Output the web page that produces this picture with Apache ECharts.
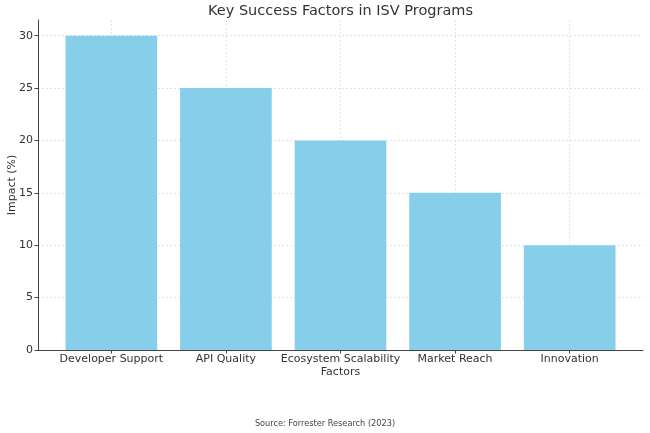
<!DOCTYPE html>
<html>
<head>
<meta charset="utf-8">
<script src="https://cdn.jsdelivr.net/npm/echarts@6/dist/echarts.min.js"></script>
<style>html,body{margin:0;padding:0;background:#fff;}#c{width:650px;height:433px;}</style>
</head>
<body>
<div id="c"></div>
<script>
const categories = ['Developer Support', 'API Quality', 'Ecosystem Scalability', 'Market Reach', 'Innovation'];
const impact = [30, 25, 20, 15, 10];
const yTicks = [0, 5, 10, 15, 20, 25, 30];
const titleText = 'Key Success Factors in ISV Programs';
const xName = 'Factors';
const yName = 'Impact (%)';
const sourceText = 'Source: Forrester Research (2023)';

const FONT = 'DejaVu Sans';
const idx = categories.map((c, i) => i);
const chart = echarts.init(document.getElementById('c'), null, {renderer: 'canvas'});
const gridLine = {show: true, lineStyle: {color: '#dcdcdc', type: [2, 2], width: 0.8}};
chart.setOption({
  animation: false,
  textStyle: {fontFamily: FONT},
  grid: {left: 38, right: 7, top: 20, bottom: 83, containLabel: false, outerBoundsMode: 'none'},
  graphic: [
    {type: 'text', left: 'center', top: 420, style: {text: sourceText, fontFamily: FONT, fontSize: 8.2, fill: '#444'}},
    {type: 'text', x: 340.5, y: 11, style: {text: titleText, fontFamily: FONT, fontSize: 14.5, fill: '#333', align: 'center', verticalAlign: 'middle'}}
  ],
  xAxis: {
    type: 'value', min: -0.64, max: 4.64,
    name: xName, nameLocation: 'middle', nameGap: 16.5, nameMoveOverlap: false,
    nameTextStyle: {fontFamily: FONT, fontSize: 11, color: '#333'},
    axisLine: {show: true, onZero: false, lineStyle: {color: '#444', width: 1}},
    axisTick: {show: true, customValues: idx, length: 3.5, lineStyle: {color: '#444'}},
    axisLabel: {customValues: idx, formatter: v => categories[Math.round(v)], fontFamily: FONT, fontSize: 11, color: '#333', margin: 4},
    splitLine: gridLine
  },
  yAxis: {
    type: 'value', min: 0, max: 31.5,
    name: yName, nameLocation: 'middle', nameGap: 20, nameMoveOverlap: false,
    nameTextStyle: {fontFamily: FONT, fontSize: 11, color: '#333'},
    axisLine: {show: true, onZero: false, lineStyle: {color: '#444', width: 1}},
    axisTick: {show: true, customValues: yTicks, length: 3.5, lineStyle: {color: '#444'}},
    axisLabel: {customValues: yTicks, fontFamily: FONT, fontSize: 11, color: '#333', margin: 5},
    splitLine: gridLine
  },
  series: [{
    type: 'custom',
    data: impact.map((v, i) => [i, v]),
    renderItem: function (params, api) {
      const x = api.value(0), y = api.value(1);
      const p0 = api.coord([x - 0.4, y]);
      const p1 = api.coord([x + 0.4, 0]);
      return {type: 'rect', shape: {x: p0[0], y: p0[1], width: p1[0] - p0[0], height: p1[1] - p0[1]},
        style: {fill: '#87CEEB'}};
    }
  }]
});
</script>
</body>
</html>
